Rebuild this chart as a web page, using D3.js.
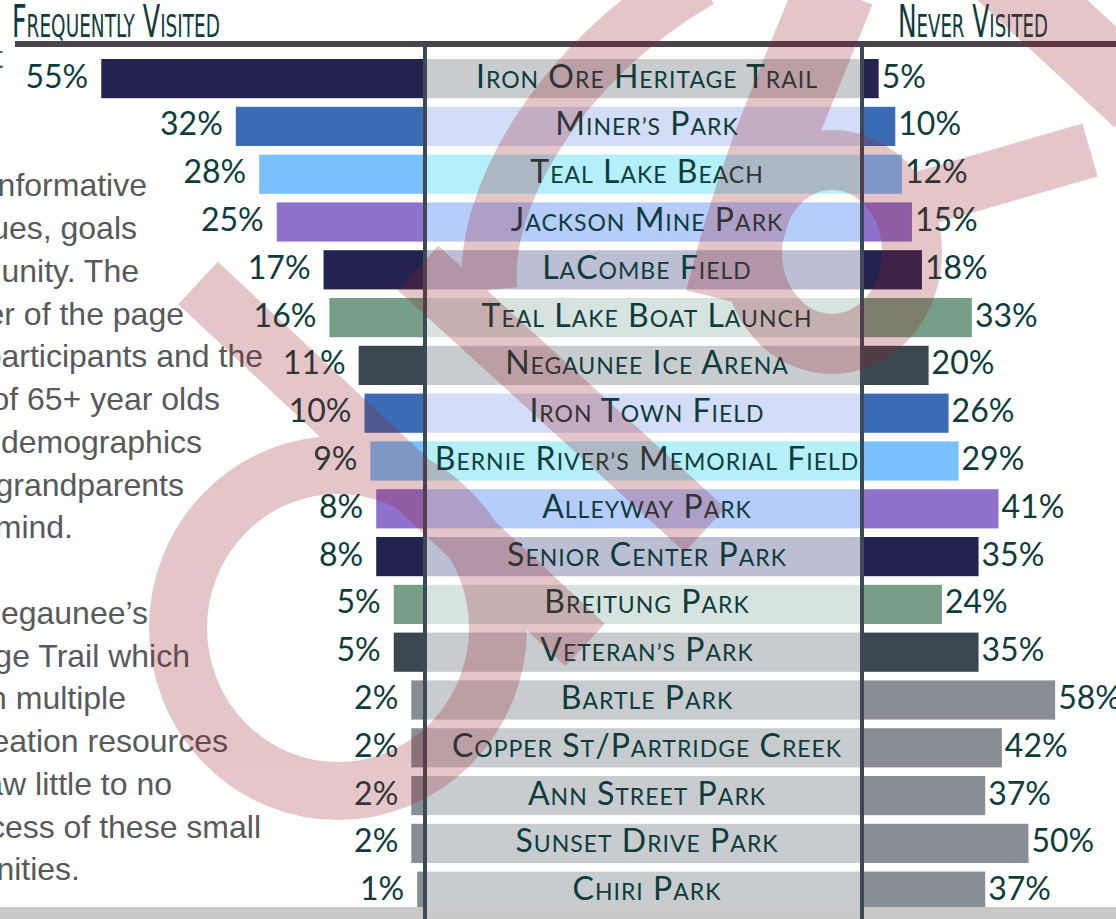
<!DOCTYPE html>
<html><head><meta charset="utf-8">
<script src="https://cdn.jsdelivr.net/npm/d3@7"></script>
<style>html,body{margin:0;padding:0;background:#fff;overflow:hidden}</style>
</head><body><svg id="c" width="1116" height="919"></svg>
<script>
// ---------- data ----------
const categories = ["Iron Ore Heritage Trail","Miner’s Park","Teal Lake Beach","Jackson Mine Park","LaCombe Field","Teal Lake Boat Launch","Negaunee Ice Arena","Iron Town Field","Bernie River’s Memorial Field","Alleyway Park","Senior Center Park","Breitung Park","Veteran’s Park","Bartle Park","Copper St/Partridge Creek","Ann Street Park","Sunset Drive Park","Chiri Park"];
const frequentlyVisited = [55,32,28,25,17,16,11,10,9,8,8,5,5,2,2,2,2,1];
const neverVisited = [5,10,12,15,18,33,20,26,29,41,35,24,35,58,42,37,50,37];
const seriesTitles = ["Frequently Visited","Never Visited"];
const paragraphFragments = ["t","","","nformative","ues, goals","unity. The","er of the page","participants and the","of 65+ year olds","demographics","grandparents","mind.","","egaunee’s","ge Trail which","in multiple","eation resources","saw little to no","cess of these small","nities."];

// ---------- layout / styles ----------
const paragraphRightEdges = [3,0,0,147,137,139,184,263,220,202,184,73,0,148,190,126,228,172,261,80];
const barColors = ["#22244f","#3a6bb3","#78c1fc","#8f72ce","#22244f","#779f88","#3a4750","#3a6bb3","#78c1fc","#8f72ce","#22244f","#779f88","#3a4750","#878e94","#878e94","#878e94","#878e94","#878e94"];
const labelBgColors = ["#c8cccf","#d4ddf8","#b4effa","#b6ccfb","#bcbed3","#d7e3de","#c8cccf","#d4ddf8","#b4effa","#b6ccfb","#bcbed3","#d7e3de","#c8cccf","#c8cccf","#c8cccf","#c8cccf","#c8cccf","#c8cccf"];
const ink = "#0e3c3c";

const svg = d3.select("#c");
const leftEdge = 423, rightEdge = 862;
const y = d3.scaleBand().domain(categories).range([59, 910.8]).paddingInner(0.18).paddingOuter(0);
const xL = d3.scaleLinear().domain([0, 100]).range([leftEdge, leftEdge - 585]);
const xR = d3.scaleLinear().domain([0, 100]).range([rightEdge, rightEdge + 333]);

const rows = categories.map((c, i) => ({c, f: frequentlyVisited[i], n: neverVisited[i], i}));

function smallCaps(sel, str, big, small) {
  const runs = [];
  for (const ch of str) {
    const isSmall = /[a-z’']/.test(ch);
    const t = isSmall ? ch.toUpperCase() : ch;
    const size = isSmall ? small : big;
    if (runs.length && runs[runs.length - 1].size === size) runs[runs.length - 1].t += t;
    else runs.push({t, size});
  }
  sel.selectAll("tspan").data(runs).join("tspan").attr("font-size", d => d.size).text(d => d.t);
}

// paragraph (cut off at left edge of the crop)
svg.append("g").selectAll("text").data(paragraphFragments).join("text")
  .attr("x", (d, i) => paragraphRightEdges[i])
  .attr("y", (d, i) => 68 + i * 42.75)
  .attr("text-anchor", "end")
  .attr("font-family", "'Liberation Sans', Arial, sans-serif")
  .attr("font-size", 32).attr("fill", "#58595b")
  .text(d => d);

// left bars
svg.append("g").selectAll("rect").data(rows).join("rect")
  .attr("x", d => xL(d.f)).attr("width", d => xL(0) - xL(d.f))
  .attr("y", d => y(d.c)).attr("height", y.bandwidth())
  .attr("fill", d => barColors[d.i]);

// right bars
svg.append("g").selectAll("rect").data(rows).join("rect")
  .attr("x", xR(0)).attr("width", d => xR(d.n) - xR(0))
  .attr("y", d => y(d.c)).attr("height", y.bandwidth())
  .attr("fill", d => barColors[d.i]);

// label backgrounds
svg.append("g").selectAll("rect").data(rows).join("rect")
  .attr("x", 427).attr("width", 433)
  .attr("y", d => y(d.c)).attr("height", y.bandwidth())
  .attr("fill", d => labelBgColors[d.i]);

// category labels
svg.append("g").selectAll("text").data(rows).join("text")
  .attr("x", 647).attr("y", d => y(d.c) + y.bandwidth() / 2 + 9)
  .attr("text-anchor", "middle")
  .attr("font-family", "Lato, 'Open Sans', sans-serif")
  .attr("letter-spacing", 1)
  .attr("fill", ink)
  .each(function (d) { smallCaps(d3.select(this), d.c, 32, 23); });

// value labels left
svg.append("g").selectAll("text").data(rows).join("text")
  .attr("x", d => xL(d.f) - 13).attr("y", d => y(d.c) + y.bandwidth() / 2 + 9)
  .attr("text-anchor", "end")
  .attr("font-family", "Lato, sans-serif").attr("font-size", 32).attr("fill", ink)
  .text(d => d.f + "%");

// value labels right
svg.append("g").selectAll("text").data(rows).join("text")
  .attr("x", d => xR(d.n) + 3).attr("y", d => y(d.c) + y.bandwidth() / 2 + 9)
  .attr("text-anchor", "start")
  .attr("font-family", "Lato, sans-serif").attr("font-size", 32).attr("fill", ink)
  .text(d => d.n + "%");

// bottom gray band
svg.append("rect").attr("x", 0).attr("y", 907).attr("width", 1116).attr("height", 12).attr("fill", "#c9c9c9");

// vertical divider lines
svg.append("g").selectAll("rect").data([425, 862]).join("rect")
  .attr("x", d => d - 2).attr("width", 4).attr("y", 47).attr("height", 872).attr("fill", "#3b4a54");

// horizontal rule
svg.append("rect").attr("x", 15).attr("y", 41).attr("width", 1101).attr("height", 6).attr("fill", "#4a4350");

// headers
const headers = svg.append("g").selectAll("text").data(seriesTitles).join("text")
  .attr("y", 37)
  .attr("font-family", "'DejaVu Sans Condensed', 'Liberation Sans Narrow', sans-serif")
  .attr("fill", ink)
  .each(function (d) { smallCaps(d3.select(this), d, 44, 32); });
const headerBox = [[12, 208], [898, 150]];
headers.each(function (d, i) {
  const w = this.getComputedTextLength();
  const s = headerBox[i][1] / w;
  d3.select(this).attr("transform", `translate(${headerBox[i][0]},0) scale(${s},1)`);
});

// "draft" watermark overlay (approximate strokes)
const wm = svg.append("g").attr("opacity", 0.25)
  .attr("fill", "none").attr("stroke", "rgb(150,30,40)").attr("stroke-linecap", "butt");
wm.append("ellipse").attr("cx", 338).attr("cy", 628).attr("rx", 160).attr("ry", 163).attr("stroke-width", 58);
wm.append("path").attr("d", "M198,283 L585,645").attr("stroke-width", 58);
wm.append("path").attr("d", "M418,268 L705,530").attr("stroke-width", 60);
wm.append("path").attr("d", "M490,290 C480,200 560,60 700,-20").attr("stroke-width", 55);
wm.append("ellipse").attr("cx", 832).attr("cy", 252).attr("rx", 80).attr("ry", 92).attr("stroke-width", 60);
wm.append("path").attr("d", "M835,-10 C800,80 760,160 725,300").attr("stroke-width", 80);
wm.append("path").attr("d", "M900,205 L1090,150").attr("stroke-width", 55);
wm.append("path").attr("d", "M1000,-30 L1140,100").attr("stroke-width", 75);
</script></body></html>
